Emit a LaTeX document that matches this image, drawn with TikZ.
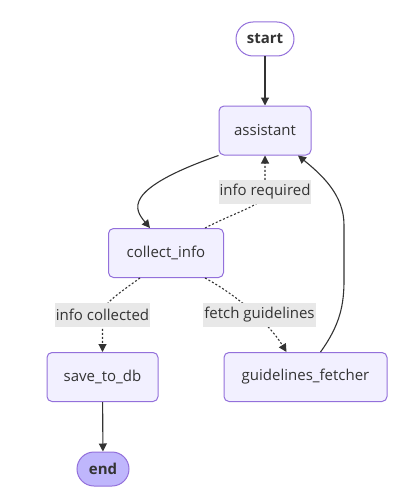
\documentclass[tikz,border=0pt]{standalone}
\usepackage{fontspec}
\setmainfont{Open Sans}
\usetikzlibrary{arrows.meta}

\definecolor{nodefill}{HTML}{F2F0FF}
\definecolor{nodeline}{HTML}{9370DB}
\definecolor{lastfill}{HTML}{BFB6FC}
\definecolor{edgeline}{HTML}{333333}
\definecolor{lblfill}{HTML}{E8E8E8}

\begin{document}
\begin{tikzpicture}[x=1pt, y=-1pt,
  font=\fontsize{15pt}{18pt}\selectfont,
  box/.style={draw=nodeline, fill=nodefill, line width=1pt,
    rounded corners=5pt, minimum height=49pt, text=edgeline},
  term/.style={draw=nodeline, line width=1pt, rounded corners=17pt,
    minimum height=34pt, text=edgeline,
    font=\fontsize{15pt}{18pt}\selectfont\bfseries},
  lbl/.style={fill=lblfill, inner xsep=1pt, inner ysep=0pt,
    minimum height=24pt, text=edgeline},
  flow/.style={draw=edgeline, line width=1.1pt,
    -{Triangle[length=8pt,width=8pt]}},
  dotflow/.style={flow, dash pattern=on 2pt off 2pt}]
  \useasboundingbox (0,0) rectangle (418,495);

  \node[term, fill=white, minimum width=58pt] (start) at (265,39) {start};
  \node[box, minimum width=92pt] (assistant) at (265,130.5) {assistant};
  \node[box, minimum width=115pt] (collect_info) at (166,253) {collect\_info};
  \node[box, minimum width=111pt] (save_to_db) at (102.5,377) {save\_to\_db};
  \node[box, minimum width=163pt] (guidelines_fetcher) at (305.5,377)
    {guidelines\_fetcher};
  \node[term, fill=lastfill, minimum width=52pt] (end) at (103,469) {end};

  \coordinate (info_required) at (265,192);
  \coordinate (info_collected) at (102.5,315);
  \coordinate (fetch_guidelines) at (259.5,315);

  \draw[flow] (start) -- (assistant);
  \draw[flow] (assistant.south west) .. controls (120,190) and (135,210)
    .. ([xshift=-16pt]collect_info.north);
  \draw[dotflow] ([xshift=39pt]collect_info.north) .. controls (240,210)
    and (265,205) .. (info_required) -- (assistant.south);
  \draw[dotflow] ([xshift=-26pt]collect_info.south) .. controls (112,298)
    and (102.5,305) .. (info_collected) -- (save_to_db.north);
  \draw[dotflow] ([xshift=39pt]collect_info.south) .. controls (240,297)
    and (270,325) .. ([xshift=-19pt]guidelines_fetcher.north);
  \draw[flow] ([xshift=15pt]guidelines_fetcher.north) .. controls (340,325)
    and (344,305) .. (344,280) -- (344,225) .. controls (344,195)
    and (322,175) .. ([xshift=33pt]assistant.south);
  \draw[flow] (save_to_db) -- (end);

  \node[lbl] (lbl_required) at (info_required) {info required};
  \node[lbl] (lbl_collected) at (info_collected) {info collected};
  \node[lbl] (lbl_fetch) at (fetch_guidelines) {fetch guidelines};
\end{tikzpicture}
\end{document}
